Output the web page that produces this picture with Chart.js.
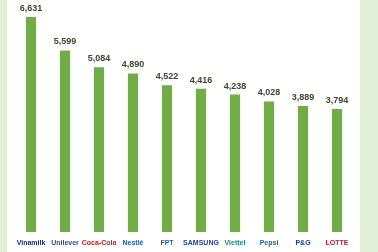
<!DOCTYPE html>
<html>
<head>
<meta charset="utf-8">
<script src="https://cdn.jsdelivr.net/npm/chart.js"></script>
<style>
  html, body { margin: 0; padding: 0; background: #ffffff; }
  #wrap { width: 378px; height: 252px; }
</style>
</head>
<body>
<div id="wrap"><canvas id="myChart" width="378" height="252"></canvas></div>
<script>
// brands (logos in the original) and their values
const brands = ['Vinamilk', 'Unilever', 'Coca-Cola', 'Nestlé', 'FPT', 'SAMSUNG', 'Viettel', 'Pepsi', 'P&G', 'LOTTE'];
const values = [6631, 5599, 5084, 4890, 4522, 4416, 4238, 4028, 3889, 3794];
const brandColors = ['#1b2a6b', '#2a4fa0', '#d0121b', '#1d5aa8', '#1f5fb0', '#1c3f95', '#1a8a7a', '#1760b0', '#1a3f9a', '#c8102e'];

// light green side strips
const sideStrips = {
  id: 'sideStrips',
  beforeDraw(chart) {
    const ctx = chart.ctx;
    ctx.save();
    ctx.fillStyle = '#e2f0d9';
    ctx.fillRect(0, 0, 7, chart.height);
    ctx.fillRect(360, 0, chart.width - 360, chart.height);
    ctx.restore();
  }
};

// value above each bar
const valueLabels = {
  id: 'valueLabels',
  afterDatasetsDraw(chart) {
    const ctx = chart.ctx;
    const meta = chart.getDatasetMeta(0);
    ctx.save();
    ctx.font = 'bold 9px "Liberation Sans", Arial, sans-serif';
    ctx.fillStyle = '#3b4630';
    ctx.textAlign = 'center';
    ctx.textBaseline = 'bottom';
    meta.data.forEach(function(bar, i) {
      ctx.fillText(values[i].toLocaleString('en-US'), bar.x, bar.y - 4);
    });
    ctx.restore();
  }
};

const data = {
  labels: brands,
  datasets: [{
    data: values,
    backgroundColor: '#70ad47',
    borderWidth: 0,
    barPercentage: 0.3,
    categoryPercentage: 1.0
  }]
};

const config = {
  type: 'bar',
  data,
  options: {
    responsive: false,
    animation: false,
    layout: { padding: { top: 5, left: 14, right: 24, bottom: 0 } },
    plugins: {
      legend: { display: false },
      tooltip: { enabled: false }
    },
    scales: {
      x: {
        afterFit(scale) { scale.height = 20; },
        grid: { display: false, drawTicks: false },
        border: { display: false },
        ticks: {
          padding: 7,
          maxRotation: 0,
          autoSkip: false,
          color: brandColors,
          font: { family: '"Liberation Sans", Arial, sans-serif', size: 7, weight: 'bold' }
        }
      },
      y: {
        display: false,
        beginAtZero: true,
        max: 7000
      }
    }
  },
  plugins: [sideStrips, valueLabels]
};

const myChart = new Chart(document.getElementById('myChart'), config);
</script>
</body>
</html>
